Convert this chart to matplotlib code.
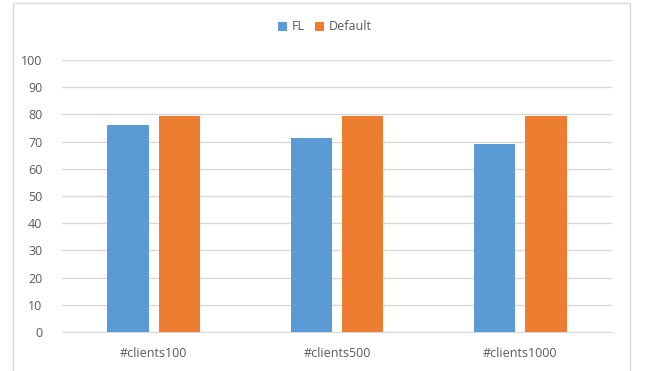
import matplotlib.pyplot as plt
import numpy as np
from matplotlib.patches import Rectangle

categorias = ['#clients100', '#clients500', '#clients1000']
fl = [76, 71.2, 69]
default = [79.3, 79.3, 79.3]

plt.rcParams['font.family'] = ['Open Sans', 'DejaVu Sans']

fig = plt.figure(figsize=(6.45, 3.71), dpi=100)
ax = fig.add_axes([62 / 645, 39 / 371, 550 / 645, 272 / 371])

# moldura externa do gráfico
fig.patches.append(Rectangle((13 / 645, -0.01), 617 / 645, 1 - 3 / 371 + 0.01,
                             transform=fig.transFigure, fill=False,
                             edgecolor='#d9d9d9', linewidth=1))

x = np.arange(len(categorias))
largura = 0.224
ax.bar(x - 0.14, fl, largura, color='#5b9bd5', label='FL', zorder=3)
ax.bar(x + 0.14, default, largura, color='#ed7d31', label='Default', zorder=3)

ax.set_xlim(-0.5, 2.5)
ax.set_ylim(0, 100)
ax.set_yticks(range(0, 101, 10))
ax.set_xticks(x)
ax.set_xticklabels(categorias)
ax.yaxis.grid(True, color='#d9d9d9', linewidth=1, zorder=0)
ax.tick_params(length=0, labelsize=9, colors='#595959')
ax.tick_params(axis='x', pad=11)
ax.tick_params(axis='y', pad=14)
for lado in ['top', 'right', 'left']:
    ax.spines[lado].set_visible(False)
ax.spines['bottom'].set_color('#d9d9d9')

fig.legend(loc='center', bbox_to_anchor=(325 / 645, 1 - 27 / 371), ncol=2,
           frameon=False, fontsize=9, labelcolor='#595959',
           handlelength=0.7, handleheight=0.7, handletextpad=0.4, columnspacing=0.8)

fig.savefig('out.png', dpi=100)
